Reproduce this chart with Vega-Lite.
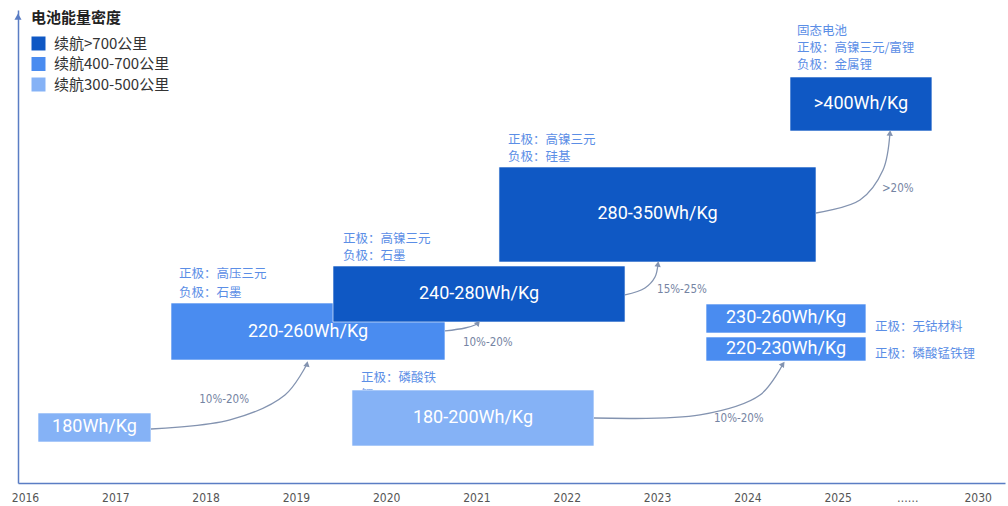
{
  "$schema": "https://vega.github.io/schema/vega-lite/v6.json",
  "width": 987,
  "height": 473,
  "autosize": {"type": "none"},
  "padding": {"left": 18, "top": 10, "right": 3, "bottom": 23},
  "background": "#ffffff",
  "config": {"view": {"stroke": null}},
  "datasets": {
    "boxes": [
      {"label": "180Wh/Kg", "cat": "续航300-500公里", "x0": 0.144, "x1": 1.395, "y0": 8.67, "y1": 14.8, "xc": 0.77, "yc": 11.74},
      {"label": "220-260Wh/Kg", "cat": "续航400-700公里", "x0": 1.617, "x1": 4.651, "y0": 26.0, "y1": 38.05, "xc": 3.134, "yc": 32.02},
      {"label": "240-280Wh/Kg", "cat": "续航>700公里", "x0": 3.411, "x1": 6.645, "y0": 34.04, "y1": 45.88, "xc": 5.028, "yc": 39.96},
      {"label": "180-200Wh/Kg", "cat": "续航300-500公里", "x0": 3.621, "x1": 6.301, "y0": 7.82, "y1": 19.66, "xc": 4.961, "yc": 13.74},
      {"label": "280-350Wh/Kg", "cat": "续航>700公里", "x0": 5.249, "x1": 8.76, "y0": 46.72, "y1": 66.81, "xc": 7.005, "yc": 56.77},
      {"label": "230-260Wh/Kg", "cat": "续航400-700公里", "x0": 7.542, "x1": 9.313, "y0": 31.71, "y1": 37.84, "xc": 8.428, "yc": 34.78},
      {"label": "220-230Wh/Kg", "cat": "续航400-700公里", "x0": 7.542, "x1": 9.313, "y0": 25.79, "y1": 30.87, "xc": 8.428, "yc": 28.33},
      {"label": ">400Wh/Kg", "cat": "续航>700公里", "x0": 8.472, "x1": 10.044, "y0": 74.42, "y1": 85.84, "xc": 9.258, "yc": 80.13}
    ],
    "notes": [
      {"text": "正极：高压三元", "x": 1.705, "y": 44.1},
      {"text": "负极：石墨", "x": 1.705, "y": 40.2},
      {"text": "正极：高镍三元", "x": 3.522, "y": 51.59},
      {"text": "负极：石墨", "x": 3.522, "y": 48.0},
      {"text": "正极：磷酸铁", "x": 3.721, "y": 22.2},
      {"text": "锂", "x": 3.721, "y": 18.6},
      {"text": "正极：高镍三元", "x": 5.349, "y": 72.52},
      {"text": "负极：硅基", "x": 5.349, "y": 68.93},
      {"text": "固态电池", "x": 8.549, "y": 95.6},
      {"text": "正极：高镍三元/富锂", "x": 8.549, "y": 92.0},
      {"text": "负极：金属锂", "x": 8.549, "y": 88.4},
      {"text": "正极：无钴材料", "x": 9.413, "y": 32.98},
      {"text": "正极：磷酸锰铁锂", "x": 9.413, "y": 27.27}
    ],
    "curves": [
      {"id": "A", "i": 0, "x": 1.395, "y": 11.42},
      {"id": "A", "i": 1, "x": 2.27, "y": 13.32},
      {"id": "A", "i": 2, "x": 2.879, "y": 18.6},
      {"id": "A", "i": 3, "x": 3.123, "y": 25.16},
      {"id": "B", "i": 0, "x": 4.651, "y": 32.14},
      {"id": "B", "i": 1, "x": 4.873, "y": 32.77},
      {"id": "B", "i": 2, "x": 4.983, "y": 33.4},
      {"id": "B", "i": 3, "x": 5.017, "y": 33.83},
      {"id": "C", "i": 0, "x": 6.645, "y": 39.75},
      {"id": "C", "i": 1, "x": 6.866, "y": 41.23},
      {"id": "C", "i": 2, "x": 6.977, "y": 43.55},
      {"id": "C", "i": 3, "x": 7.01, "y": 46.3},
      {"id": "D", "i": 0, "x": 8.76, "y": 57.08},
      {"id": "D", "i": 1, "x": 9.247, "y": 59.83},
      {"id": "D", "i": 2, "x": 9.502, "y": 66.17},
      {"id": "D", "i": 3, "x": 9.579, "y": 74.0},
      {"id": "E", "i": 0, "x": 6.301, "y": 13.74},
      {"id": "E", "i": 1, "x": 7.475, "y": 14.38},
      {"id": "E", "i": 2, "x": 8.14, "y": 18.6},
      {"id": "E", "i": 3, "x": 8.394, "y": 25.16}
    ],
    "heads": [
      {"x": 3.123, "y": 25.16, "angle": 12},
      {"x": 5.017, "y": 33.83, "angle": 40},
      {"x": 7.01, "y": 46.3, "angle": 8},
      {"x": 9.579, "y": 74.0, "angle": 5},
      {"x": 8.394, "y": 25.16, "angle": 35}
    ],
    "pcts": [
      {"text": "10%-20%", "x": 1.93, "y": 17.55},
      {"text": "10%-20%", "x": 4.85, "y": 29.6},
      {"text": "15%-25%", "x": 7.0, "y": 40.8},
      {"text": ">20%", "x": 9.49, "y": 62.16},
      {"text": "10%-20%", "x": 7.63, "y": 13.53}
    ],
    "yarrow": [{"x": -0.0775, "y": 98.6}]
  },
  "layer": [
    {
      "data": {"name": "notes"},
      "mark": {"type": "text", "align": "left", "baseline": "middle", "font": "Noto Sans CJK SC", "fontSize": 12.5, "color": "#5b8ee6"},
      "encoding": {
        "x": {"field": "x", "type": "quantitative", "scale": {"domain": [-0.0775, 10.853], "nice": false, "zero": false},
          "axis": {"values": [0, 1, 2, 3, 4, 5, 6, 7, 8, 9, 9.77, 10.55],
            "labelExpr": "datum.value < 9.5 ? '' + (2016 + round(datum.value)) : (datum.value < 10 ? '……' : '2030')",
            "domainColor": "#5a7dc4", "domainWidth": 1.5, "ticks": false, "grid": false, "title": null,
            "labelColor": "#555555", "labelFontSize": 12, "labelFont": "Liberation Sans Narrow, DejaVu Sans Condensed, sans-serif", "labelPadding": 9, "labelFlush": false, "labelOverlap": false}},
        "y": {"field": "y", "type": "quantitative", "scale": {"domain": [0, 100], "nice": false, "zero": false},
          "axis": {"domainColor": "#5a7dc4", "domainWidth": 1.5, "ticks": false, "labels": false, "grid": false, "title": null}},
        "text": {"field": "text"}
      }
    },
    {
      "data": {"name": "boxes"},
      "mark": {"type": "rect", "stroke": "#ffffff", "strokeWidth": 1, "strokeOpacity": 0.6},
      "encoding": {
        "x": {"field": "x0", "type": "quantitative"},
        "x2": {"field": "x1"},
        "y": {"field": "y0", "type": "quantitative"},
        "y2": {"field": "y1"},
        "color": {"field": "cat", "type": "nominal",
          "scale": {"domain": ["续航>700公里", "续航400-700公里", "续航300-500公里"], "range": ["#0f58c4", "#4a8cf0", "#85b2f6"]},
          "legend": {"orient": "none", "legendX": 13, "legendY": 1, "title": "电池能量密度", "titleFontSize": 15, "titleFontWeight": "bold", "titleColor": "#222222", "titleFont": "Noto Sans CJK SC", "titlePadding": 10, "symbolType": "square", "symbolSize": 196, "symbolStrokeWidth": 0, "symbolOpacity": 1, "labelFontSize": 15, "labelFont": "Noto Sans CJK SC", "labelColor": "#333333", "labelOffset": 8, "rowPadding": 4.5, "padding": 0}}
      }
    },
    {
      "data": {"name": "boxes"},
      "mark": {"type": "text", "align": "center", "baseline": "middle", "font": "Roboto", "fontSize": 18, "color": "#ffffff"},
      "encoding": {
        "x": {"field": "xc", "type": "quantitative"},
        "y": {"field": "yc", "type": "quantitative"},
        "text": {"field": "label"}
      }
    },
    {
      "data": {"name": "curves"},
      "mark": {"type": "line", "interpolate": "catmull-rom", "color": "#8393b0", "strokeWidth": 1.3},
      "encoding": {
        "x": {"field": "x", "type": "quantitative"},
        "y": {"field": "y", "type": "quantitative"},
        "detail": {"field": "id"},
        "order": {"field": "i"}
      }
    },
    {
      "data": {"name": "heads"},
      "mark": {"type": "point", "shape": "triangle-up", "filled": true, "size": 40, "color": "#8393b0", "opacity": 1},
      "encoding": {
        "x": {"field": "x", "type": "quantitative"},
        "y": {"field": "y", "type": "quantitative"},
        "angle": {"field": "angle", "type": "quantitative", "scale": null}
      }
    },
    {
      "data": {"name": "yarrow"},
      "mark": {"type": "point", "shape": "triangle-up", "filled": true, "size": 50, "color": "#5a7dc4", "opacity": 1},
      "encoding": {
        "x": {"field": "x", "type": "quantitative"},
        "y": {"field": "y", "type": "quantitative"}
      }
    },
    {
      "data": {"name": "pcts"},
      "mark": {"type": "text", "align": "left", "baseline": "middle", "font": "Liberation Sans Narrow, DejaVu Sans Condensed, sans-serif", "fontSize": 11.5, "color": "#7584a3"},
      "encoding": {
        "x": {"field": "x", "type": "quantitative"},
        "y": {"field": "y", "type": "quantitative"},
        "text": {"field": "text"}
      }
    }
  ]
}
